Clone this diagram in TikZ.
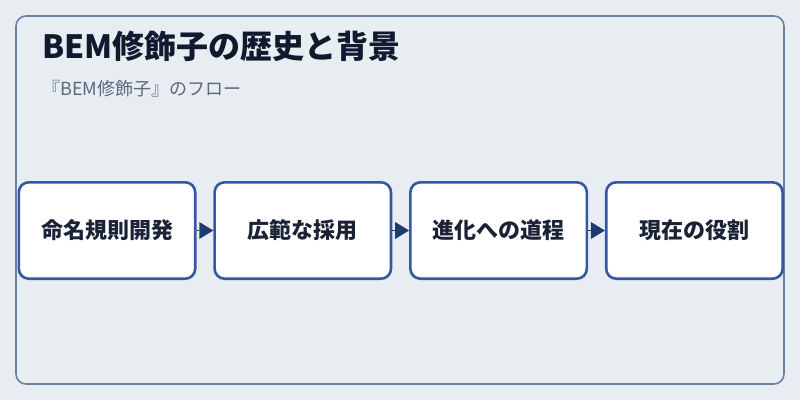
\documentclass[tikz,border=0pt]{standalone}
\usepackage{fontspec}
\setmainfont{Noto Sans CJK JP}
\usetikzlibrary{arrows.meta}
\definecolor{bg}{HTML}{E8EDF2}
\definecolor{frame}{HTML}{6B80A8}
\definecolor{boxline}{HTML}{3558A0}
\definecolor{arrowc}{HTML}{1F3A70}
\definecolor{titlec}{HTML}{101A2E}
\definecolor{subc}{HTML}{5B6880}
\definecolor{textc}{HTML}{1A2236}
\tikzset{
  stepbox/.style={draw=boxline, line width=2.6pt, fill=white, rounded corners=10pt,
    minimum width=176.4pt, minimum height=96.4pt, inner sep=0pt,
    text=textc, font=\fontsize{22}{26}\selectfont\bfseries},
  flowarrow/.style={draw=arrowc, line width=0.1pt, -{Triangle[length=14pt,width=17pt,fill=arrowc,line width=0pt]}},
}
\begin{document}
\begin{tikzpicture}[x=1pt,y=-1pt]
\useasboundingbox[fill=bg] (0,0) rectangle (800,400);
\draw[frame, line width=1.6pt, rounded corners=10pt] (16,16) rectangle (784,384);
\node[anchor=base west, inner sep=0pt, text=titlec, font=\fontsize{32}{38}\selectfont\bfseries] (title) at (42,58) {BEM修飾子の歴史と背景};
\node[anchor=base west, inner sep=0pt, text=subc, font=\fontsize{18}{22}\selectfont] (sub) at (42,95) {『BEM修飾子』のフロー};
\node[stepbox] (b1) at (107,230.5) {命名規則開発};
\node[stepbox] (b2) at (302.8,230.5) {広範な採用};
\node[stepbox] (b3) at (498.6,230.5) {進化への道程};
\node[stepbox] (b4) at (694.4,230.5) {現在の役割};
\draw[flowarrow] (b1) -- (b2);
\draw[flowarrow] (b2) -- (b3);
\draw[flowarrow] (b3) -- (b4);
\end{tikzpicture}
\end{document}
